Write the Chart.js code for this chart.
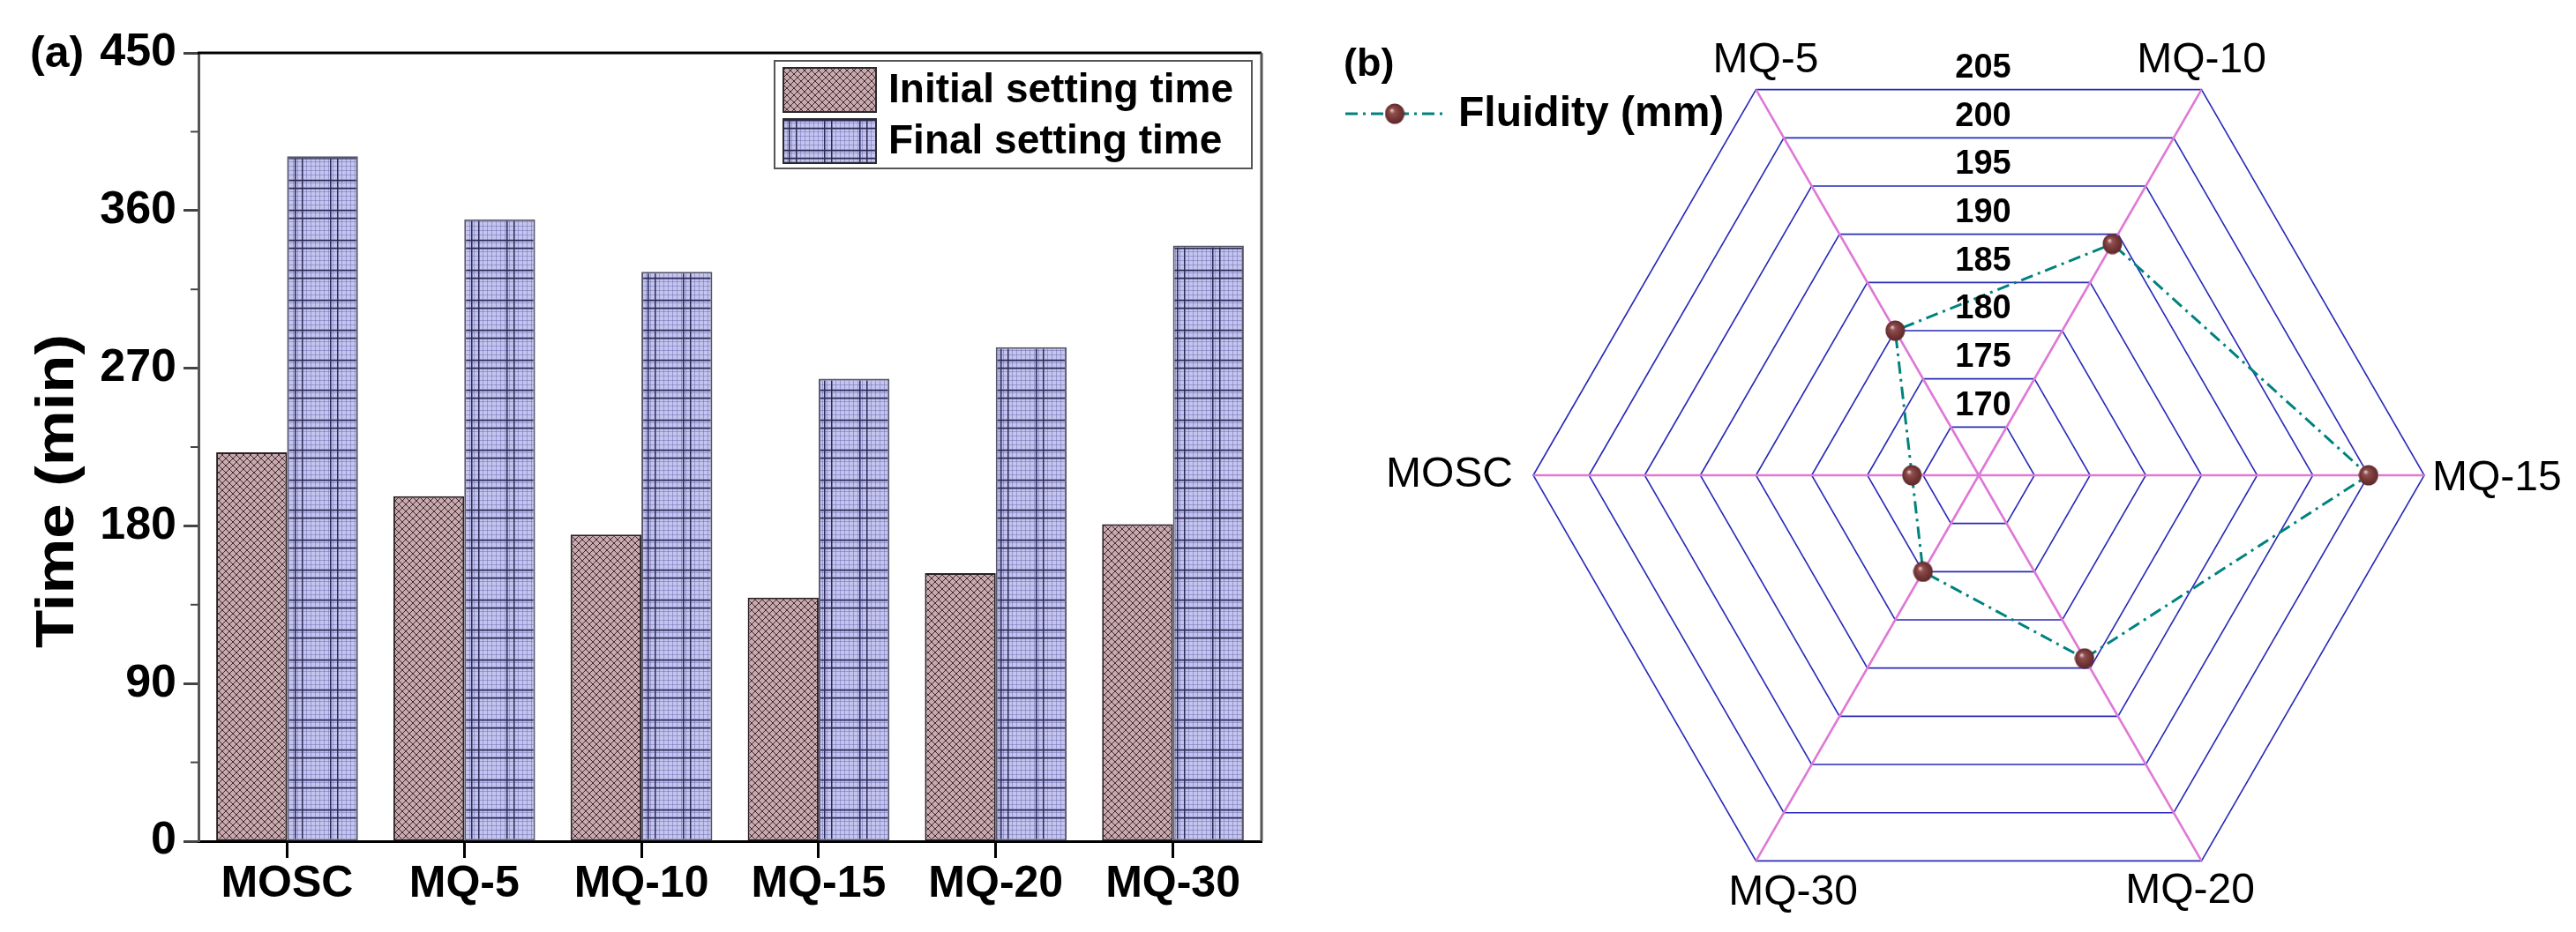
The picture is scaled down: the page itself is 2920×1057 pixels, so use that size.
<!DOCTYPE html>
<html>
<head>
<meta charset="utf-8">
<script src="https://cdn.jsdelivr.net/npm/chart.js@4.4.1/dist/chart.umd.min.js"></script>
<style>
    html, body { margin: 0; padding: 0; background: #fff; }
    body { width: 2920px; height: 1057px; position: relative; overflow: hidden; }
    .box { position: absolute; top: 0; height: 1057px; }
    #barBox { left: 0; width: 1460px; }
    #radarBox { left: 1460px; width: 1460px; }
</style>
</head>
<body>
<div class="box" id="barBox"><canvas id="settingChart"></canvas></div>
<div class="box" id="radarBox"><canvas id="fluidityChart"></canvas></div>

<script>
/* Data (a): setting time */
var categories = ['MOSC', 'MQ-5', 'MQ-10', 'MQ-15', 'MQ-20', 'MQ-30'];
var initialTime = [222, 197, 175, 139, 153, 181];
var finalTime = [391, 355, 325, 264, 282, 340];
var timeTicks = [0, 90, 180, 270, 360, 450];
var timeMinorTicks = [45, 135, 225, 315, 405];

/* Data (b): fluidity */
var fluidityAxes = ['MOSC', 'MQ-5', 'MQ-10', 'MQ-15', 'MQ-20', 'MQ-30'];
var fluidity = [171, 180, 189, 200, 184, 175];
var fluidityRings = [170, 175, 180, 185, 190, 195, 200, 205];

var FONT = '"Liberation Sans", Arial, sans-serif';
Chart.defaults.font.family = FONT;
Chart.defaults.color = '#000';

/* Hatch pattern for initial setting time */
function makeCrossHatch() {
    var c = document.createElement('canvas');
    c.width = 16; c.height = 16;
    var g = c.getContext('2d');
    g.fillStyle = '#c7a9ae';
    g.fillRect(0, 0, 16, 16);
    g.strokeStyle = '#3d2a2f';
    g.lineWidth = 1;
    for (var k = -16; k <= 32; k += 8) {
        g.beginPath(); g.moveTo(k, 0); g.lineTo(k + 16, 16); g.stroke();
        g.beginPath(); g.moveTo(k + 16, 0); g.lineTo(k, 16); g.stroke();
    }
    return g.createPattern(c, 'repeat');
}

/* Plaid pattern for final setting time */
function makePlaid() {
    var c = document.createElement('canvas');
    c.width = 40; c.height = 34;
    var g = c.getContext('2d');
    g.fillStyle = '#c4c4ef';
    g.fillRect(0, 0, 40, 34);
    g.fillStyle = 'rgba(100, 100, 170, 0.45)';
    for (var x = 2; x < 40; x += 5) g.fillRect(x, 0, 1, 34);
    for (var y = 3; y < 34; y += 5) g.fillRect(0, y, 40, 1);
    g.fillStyle = '#2a2a55';
    g.fillRect(14, 0, 1.5, 34);
    g.fillRect(22, 0, 1.5, 34);
    g.fillRect(0, 0, 40, 1.5);
    g.fillRect(0, 9, 40, 1.5);
    return g.createPattern(c, 'repeat');
}

/* Little shaded ball used as point marker */
function makeSphere() {
    var c = document.createElement('canvas');
    c.width = 23; c.height = 24;
    var g = c.getContext('2d');
    var grad = g.createRadialGradient(8, 8, 0.5, 11.5, 12, 12);
    grad.addColorStop(0, '#e6c6c6');
    grad.addColorStop(0.22, '#925050');
    grad.addColorStop(0.6, '#763838');
    grad.addColorStop(1, '#5a2828');
    g.fillStyle = grad;
    g.beginPath();
    g.ellipse(11.5, 12, 11, 11.5, 0, 0, Math.PI * 2);
    g.fill();
    return c;
}

var sphere = makeSphere();

/* Frame, minor ticks, axis title, legend and panel letter for (a) */
var barDecor = {
    id: 'barDecor',
    afterDraw: function(chart) {
        var ctx = chart.ctx;
        var area = chart.chartArea;
        var yScale = chart.scales.y;
        ctx.save();

        // top and right frame lines
        ctx.lineWidth = 3;
        ctx.strokeStyle = '#000';
        ctx.beginPath(); ctx.moveTo(area.left - 1, area.top); ctx.lineTo(area.right, area.top); ctx.stroke();
        ctx.strokeStyle = '#555';
        ctx.beginPath(); ctx.moveTo(area.right, area.top); ctx.lineTo(area.right, area.bottom); ctx.stroke();

        // minor ticks
        ctx.lineWidth = 2;
        ctx.strokeStyle = '#444';
        timeMinorTicks.forEach(function(v) {
            var y = yScale.getPixelForValue(v);
            ctx.beginPath(); ctx.moveTo(area.left - 9, y); ctx.lineTo(area.left, y); ctx.stroke();
        });

        // y axis title (slightly stretched like the original)
        ctx.fillStyle = '#000';
        ctx.font = 'bold 62px ' + FONT;
        ctx.textAlign = 'center';
        ctx.textBaseline = 'middle';
        ctx.save();
        ctx.translate(66, (area.top + area.bottom) / 2 + 50);
        ctx.rotate(-Math.PI / 2);
        ctx.scale(1.14, 1);
        ctx.fillText('Time (min)', 0, 0);
        ctx.restore();

        // legend box
        var bx = area.right - 552, by = area.top + 9, bw = 541, bh = 122;
        ctx.fillStyle = '#fff';
        ctx.fillRect(bx, by, bw, bh);
        ctx.lineWidth = 2;
        ctx.strokeStyle = '#555';
        ctx.strokeRect(bx, by, bw, bh);
        ctx.font = 'bold 46px ' + FONT;
        ctx.textAlign = 'left';
        chart.data.datasets.forEach(function(ds, i) {
            var sy = by + 8 + i * 58;
            ctx.fillStyle = ds.backgroundColor;
            ctx.fillRect(bx + 10, sy, 105, 50);
            ctx.strokeStyle = '#2a2a2a';
            ctx.lineWidth = 2;
            ctx.strokeRect(bx + 10, sy, 105, 50);
            ctx.fillStyle = '#000';
            ctx.fillText(ds.label, bx + 129, sy + 26);
        });

        // panel letter
        ctx.font = 'bold 50px ' + FONT;
        ctx.fillText('(a)', 34, 62);
        ctx.restore();
    }
};

/* Ring values, axis names, legend and panel letter for (b) */
var radarDecor = {
    id: 'radarDecor',
    afterDraw: function(chart) {
        var ctx = chart.ctx;
        var r = chart.scales.r;
        var cos30 = Math.cos(Math.PI / 6);
        ctx.save();

        // ring values
        ctx.fillStyle = '#000';
        ctx.font = 'bold 38px ' + FONT;
        ctx.textAlign = 'center';
        ctx.textBaseline = 'middle';
        fluidityRings.forEach(function(v) {
            var d = r.getDistanceFromCenterForValue(v);
            ctx.fillText(String(v), r.xCenter + 5, r.yCenter - d * cos30 - 24);
        });

        // axis names
        var dx = [-23, 11, 0, 9, -13, 42];
        var dy = [0, -33, -33, 4, 34, 36];
        var align = ['right', 'center', 'center', 'left', 'center', 'center'];
        ctx.font = '48px ' + FONT;
        fluidityAxes.forEach(function(name, i) {
            var p = r.getPointPosition(i, r.drawingArea);
            ctx.textAlign = align[i];
            ctx.fillText(name, p.x + dx[i], p.y + dy[i]);
        });

        // legend
        var ds = chart.data.datasets[0];
        ctx.strokeStyle = ds.borderColor;
        ctx.lineWidth = 3;
        ctx.setLineDash(ds.borderDash);
        ctx.beginPath(); ctx.moveTo(65, 129); ctx.lineTo(178, 129); ctx.stroke();
        ctx.setLineDash([]);
        ctx.drawImage(sphere, 121 - sphere.width / 2, 129 - sphere.height / 2);
        ctx.font = 'bold 48px ' + FONT;
        ctx.textAlign = 'left';
        ctx.fillText(ds.label, 193, 130);

        // panel letter
        ctx.font = 'bold 45px ' + FONT;
        ctx.fillText('(b)', 63, 74);
        ctx.restore();
    }
};

document.addEventListener('DOMContentLoaded', function() {
    var crossHatch = makeCrossHatch();
    var plaid = makePlaid();

    // (a) setting time bars
    new Chart(document.getElementById('settingChart'), {
        type: 'bar',
        data: {
            labels: categories,
            datasets: [{
                label: 'Initial setting time',
                data: initialTime,
                backgroundColor: crossHatch,
                borderColor: '#2b2024',
                borderWidth: 2,
                borderSkipped: false
            }, {
                label: 'Final setting time',
                data: finalTime,
                backgroundColor: plaid,
                borderColor: '#55556a',
                borderWidth: 2,
                borderSkipped: false
            }]
        },
        options: {
            animation: false,
            responsive: true,
            maintainAspectRatio: false,
            layout: { padding: { left: 0, top: 60, right: 30, bottom: 0 } },
            datasets: { bar: { categoryPercentage: 0.8, barPercentage: 1.0 } },
            plugins: { legend: { display: false }, tooltip: { enabled: false } },
            scales: {
                x: {
                    afterFit: function(scale) { scale.height = 103; },
                    grid: {
                        offset: false,
                        drawOnChartArea: false,
                        tickLength: 19,
                        tickWidth: 3,
                        tickColor: '#000'
                    },
                    border: { display: true, color: '#000', width: 3 },
                    ticks: { padding: 0, color: '#000', font: { size: 50, weight: 'bold' } }
                },
                y: {
                    min: 0,
                    max: 450,
                    afterFit: function(scale) { scale.width = 225; },
                    grid: {
                        drawOnChartArea: false,
                        tickLength: 17,
                        tickWidth: 3,
                        tickColor: function(c) {
                            return c.tick && timeTicks.indexOf(c.tick.value) >= 0 ? '#444' : 'rgba(0,0,0,0)';
                        }
                    },
                    border: { display: true, color: '#555', width: 3 },
                    ticks: {
                        stepSize: 45,
                        autoSkip: false,
                        padding: 8,
                        color: '#000',
                        font: { size: 52, weight: 'bold' },
                        callback: function(v) { return timeTicks.indexOf(v) >= 0 ? v : ''; }
                    }
                }
            }
        },
        plugins: [barDecor]
    });

    // (b) fluidity radar
    new Chart(document.getElementById('fluidityChart'), {
        type: 'radar',
        data: {
            labels: fluidityAxes,
            datasets: [{
                label: 'Fluidity (mm)',
                data: fluidity,
                borderColor: '#00827e',
                borderWidth: 3,
                borderDash: [14, 6, 3, 6],
                fill: false,
                tension: 0,
                pointStyle: sphere,
                pointRadius: 11
            }]
        },
        options: {
            animation: false,
            responsive: true,
            maintainAspectRatio: false,
            layout: { padding: { left: 278, right: 172, top: 34, bottom: 13 } },
            plugins: { legend: { display: false }, tooltip: { enabled: false } },
            scales: {
                r: {
                    min: 165,
                    max: 205,
                    startAngle: 270,
                    ticks: { display: false, stepSize: 5 },
                    pointLabels: { display: false },
                    grid: { circular: false, color: '#2a2ab8', lineWidth: 1.6 },
                    angleLines: { color: '#df78d6', lineWidth: 2.6 }
                }
            }
        },
        plugins: [radarDecor]
    });
});
</script>
</body>
</html>
